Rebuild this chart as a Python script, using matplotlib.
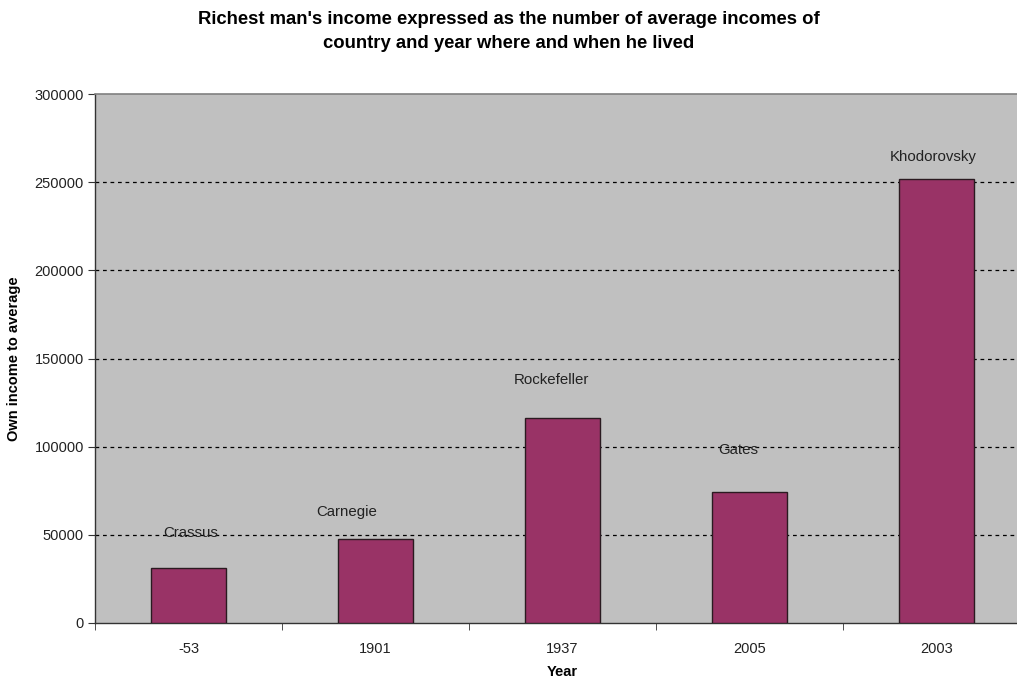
import matplotlib
matplotlib.use("Agg")
import matplotlib.pyplot as plt
import numpy as np

years = ["-53", "1901", "1937", "2005", "2003"]
names = ["Crassus", "Carnegie", "Rockefeller", "Gates", "Khodorovsky"]
values = [31300, 47700, 116500, 74500, 251800]
yticks = [0, 50000, 100000, 150000, 200000, 250000, 300000]

# label offsets in pixels (dx, dy) from bar top centre
label_dx = [2, -29, -11, -11, -3]
label_dy = [35, 27, 38, 42, 22]

plt.rcParams['font.family'] = ['Liberation Sans', 'DejaVu Sans']

fig = plt.figure(figsize=(10.17, 6.81), dpi=100)
fig.patch.set_facecolor('white')
ax = fig.add_axes([95 / 1017, 1 - 623 / 681, 935 / 1017, 529 / 681])
ax.set_facecolor('#C0C0C0')

x = np.arange(len(years))
ax.bar(x, values, width=0.4, color='#993366', edgecolor='#2a1a20', linewidth=1.0, zorder=3)

ax.set_xlim(-0.5, len(years) - 0.5)
ax.set_ylim(0, 300000)
ax.set_yticks(yticks)
ax.set_yticklabels([str(t) for t in yticks], fontsize=10.5, color='#222222')
ax.set_xticks(x)
ax.set_xticklabels(years, fontsize=10.5, color='#222222')
ax.set_xticks(np.arange(len(years) + 1) - 0.5, minor=True)
ax.tick_params(axis='x', which='major', length=0, pad=14)
ax.tick_params(axis='x', which='minor', length=5, direction='out', color='#333333')
ax.tick_params(axis='y', length=5, direction='out', color='#333333', pad=3)

for t in yticks[1:-1]:
    ax.axhline(t, color='black', linestyle=(0, (3, 3)), linewidth=0.9, zorder=2)

for s in ['left', 'bottom']:
    ax.spines[s].set_color('#333333')
    ax.spines[s].set_linewidth(1.0)
ax.spines['top'].set_color('#808080')
ax.spines['top'].set_linewidth(1.2)
ax.spines['right'].set_visible(False)

for i, (n, v) in enumerate(zip(names, values)):
    ax.annotate(n, xy=(i, v), xytext=(label_dx[i] * 0.72, label_dy[i] * 0.72),
                textcoords='offset points', ha='center', va='center',
                fontsize=10.8, color='#222222', zorder=4)

ax.set_xlabel('Year', fontsize=10.5, fontweight='bold', labelpad=6)
ax.set_ylabel('Own income to average', fontsize=10.5, fontweight='bold', labelpad=10)

fig.text(0.5, 1 - 19 / 681, "Richest man's income expressed as the number of average incomes of",
         ha='center', va='center', fontsize=13.3, fontweight='bold')
fig.text(0.5, 1 - 44 / 681, "country and year where and when he lived",
         ha='center', va='center', fontsize=13.3, fontweight='bold')

fig.savefig('out.png', dpi=100)
